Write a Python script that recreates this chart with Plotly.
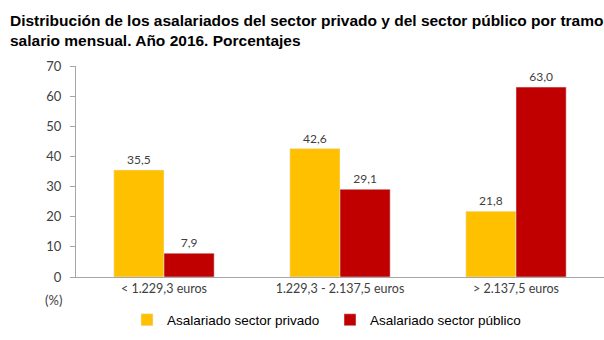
import plotly.graph_objects as go

categories = ["< 1.229,3 euros", "1.229,3 - 2.137,5 euros", "> 2.137,5 euros"]
privado = [35.5, 42.6, 21.8]
publico = [7.9, 29.1, 63.0]
series_names = ["Asalariado sector privado", "Asalariado sector público"]
title_text = ("<b>Distribución de los asalariados del sector privado y del sector público por tramo"
              "<br>salario mensual. Año 2016. Porcentajes</b>")

def fmt(v):
    return f"{v:.1f}".replace(".", ",")

W, H = 604, 340
ML, MR, MT, MB = 76, 0, 66, 63
PH = H - MT - MB

def py(pix):
    return (H - MB - pix) / PH

def px(pix):
    return (pix - ML) / (W - ML - MR)

lab_font = dict(size=12, color="#404040", family="Lato, sans-serif")

fig = go.Figure()
fig.add_trace(go.Bar(x=categories, y=privado, name=series_names[0], marker_color="#FFC000",
                     text=[fmt(v) for v in privado], textposition="outside",
                     textfont=lab_font, cliponaxis=False, legend="legend"))
fig.add_trace(go.Bar(x=categories, y=publico, name=series_names[1], marker_color="#C00000",
                     text=[fmt(v) for v in publico], textposition="outside",
                     textfont=lab_font, cliponaxis=False, legend="legend2"))

leg_common = dict(orientation="h", yanchor="middle", xanchor="left",
                  font=dict(size=13.5, color="#000000", family="Liberation Sans, Arial, sans-serif"),
                  itemwidth=30, bgcolor="rgba(0,0,0,0)")

fig.update_layout(
    width=W, height=H,
    margin=dict(l=ML, r=MR, t=MT, b=MB, autoexpand=False),
    paper_bgcolor="white", plot_bgcolor="white",
    barmode="group", bargap=0.43, bargroupgap=0,
    font=dict(family="Liberation Sans, Arial, sans-serif", color="#404040"),
    showlegend=True,
    legend=dict(x=px(127), y=py(320), **leg_common),
    legend2=dict(x=px(330), y=py(320), **leg_common),
    yaxis=dict(range=[0, 70], dtick=10, showgrid=False, showline=True, linecolor="#A6A6A6",
               ticks="outside", ticklen=5, tickcolor="#A6A6A6", zeroline=False,
               ticklabelstandoff=6, tickfont=dict(size=13, color="#404040", family="Lato, sans-serif")),
    xaxis=dict(showline=True, linecolor="#A6A6A6", ticks="", showgrid=False,
               tickfont=dict(size=12.5, color="#404040", family="Lato, sans-serif")),
)
fig.add_annotation(text=title_text, xref="paper", yref="paper", x=px(8), y=py(10),
                   xanchor="left", yanchor="top", align="left", showarrow=False,
                   font=dict(size=15.5, color="#000000", family="Liberation Sans, Arial, sans-serif"))
fig.add_annotation(text="(%)", xref="paper", yref="paper", x=px(53), y=py(300), showarrow=False,
                   font=dict(size=13, color="#404040", family="Lato, sans-serif"),
                   xanchor="center", yanchor="middle")

fig.write_html("out.html")
